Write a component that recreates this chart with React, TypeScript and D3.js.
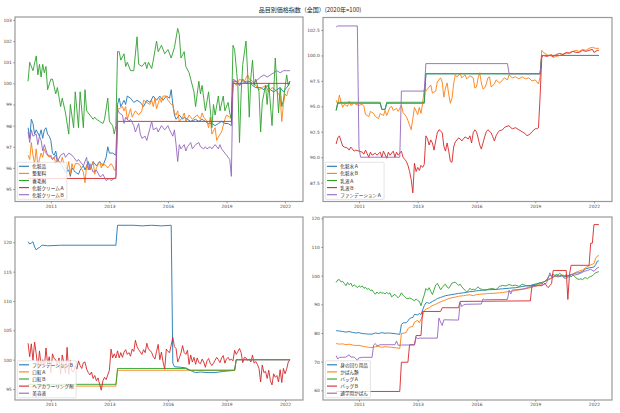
import { useEffect, useRef } from "react";
import * as d3 from "d3";

// x = months since 2008-11
const xTickMonths = [14, 50, 86, 122, 158];
const xTickLabels = ["2011", "2013", "2016", "2019", "2022"];
const xExtent = [0, 161];

const title = "品目別価格指数（全国）(2020年=100)";
const colors = ["#1f77b4", "#ff7f0e", "#2ca02c", "#d62728", "#9467bd"];

// ---- top left ----
const labelsTL = ["化粧品", "整髪料", "養毛剤", "化粧クリームＡ", "化粧クリームＢ"];
const keshohin = [[0,97.9],[1,97.4],[2,98.3],[3,98.1],[4,97.6],[5,97.8],[7,97.5],[8,97.8],[9,97.4],[10,97.8],[11,97.9],[12,97.6],[13,97.5],[14,97.3],[15,96.7],[16,96.6],[17,96.8],[18,96.4],[19,96.3],[21,96.1],[23,95.8],[25,95.9],[26,95.6],[27,96.0],[29,95.8],[31,95.7],[32,95.9],[34,96.1],[35,95.9],[37,96.3],[38,95.9],[40,96.3],[42,96.1],[44,96.3],[45,96.2],[46,96.1],[48,96.5],[49,97.0],[50,96.7],[52,96.7],[54,96.6],[55,99.0],[56,99.3],[57,98.9],[59,99.2],[60,99.0],[61,99.4],[63,99.3],[65,99.1],[67,99.2],[69,99.1],[71,98.9],[73,99.2],[75,99.1],[77,99.4],[79,99.2],[81,99.4],[83,99.2],[85,99.4],[87,99.3],[88,99.7],[89,99.0],[90,98.5],[91,98.3],[93,98.5],[95,98.3],[96,98.4],[98,98.3],[100,98.2],[103,98.3],[105,98.2],[107,98.3],[109,98.2],[111,98.1],[113,98.1],[115,98.0],[117,98.1],[119,98.2],[121,98.1],[123,98.1],[125,98.0],[126,100.1],[128,100.1],[130,99.9],[132,100.2],[134,100.0],[136,100.1],[138,99.9],[140,99.8],[143,99.8],[145,99.7],[147,99.9],[149,99.7],[151,99.6],[153,99.7],[155,99.8],[157,99.6],[158,99.7],[160,99.9],[161,100.1]];
const seihatsuryo = [[0,96.6],[1,96.4],[2,97.2],[3,96.6],[4,96.2],[5,96.9],[6,96.1],[7,96.4],[8,96.7],[9,96.5],[10,96.9],[11,96.7],[12,96.6],[13,96.5],[14,96.6],[15,96.4],[16,96.5],[17,96.2],[18,96.4],[19,96.3],[20,96.2],[21,96.5],[22,96.2],[24,95.9],[25,96.3],[26,95.7],[27,96.2],[28,95.9],[29,96.2],[31,96.2],[32,96.1],[34,95.8],[35,95.3],[36,96.1],[38,95.9],[40,96.3],[41,95.7],[42,96.0],[44,96.3],[45,96.0],[46,96.2],[48,96.1],[49,96.0],[51,96.2],[52,96.1],[53,95.9],[54,95.9],[55,98.8],[56,98.8],[58,98.9],[59,98.7],[60,98.9],[61,98.3],[63,98.8],[64,98.4],[66,98.7],[67,98.6],[68,98.5],[70,98.7],[71,99.2],[73,99.1],[75,99.0],[76,99.2],[77,98.9],[78,99.3],[79,98.8],[81,99.3],[82,99.1],[83,99.4],[85,99.4],[86,99.2],[88,99.0],[89,99.0],[90,98.6],[91,98.5],[92,98.7],[93,98.2],[95,98.4],[96,98.6],[97,98.2],[99,98.5],[101,98.3],[104,98.5],[106,98.3],[107,98.6],[108,98.4],[110,98.2],[111,97.9],[112,98.4],[113,97.6],[115,97.9],[116,97.3],[118,97.6],[119,97.7],[121,98.3],[122,98.5],[124,98.4],[125,98.4],[126,100.1],[128,99.9],[130,100.2],[132,100.1],[133,100.1],[135,100.4],[136,100.2],[138,100.1],[140,99.9],[142,99.7],[144,99.8],[146,99.9],[148,99.6],[150,99.8],[152,99.7],[153,99.6],[155,99.4],[156,98.2],[157,99.0],[158,99.5],[159,99.4],[160,99.7],[161,99.8]];
const yomozai = [[0,100.1],[1,101.0],[3,100.6],[5,101.3],[6,100.4],[7,100.9],[8,100.3],[9,100.9],[10,100.5],[11,100.8],[12,99.7],[14,100.2],[15,100.2],[17,99.5],[18,99.8],[20,98.9],[21,99.3],[23,98.6],[25,97.6],[26,99.0],[28,97.9],[29,99.6],[31,97.9],[32,99.6],[34,97.9],[35,99.7],[36,98.7],[38,98.5],[40,98.3],[41,98.4],[42,98.3],[44,98.2],[46,98.1],[47,98.3],[49,99.3],[50,98.2],[52,98.0],[53,97.6],[54,98.0],[55,101.5],[56,101.5],[57,101.1],[59,101.4],[60,100.8],[61,101.0],[63,100.6],[65,100.6],[67,102.2],[68,100.9],[70,100.8],[72,101.0],[73,100.7],[74,101.0],[76,100.7],[77,101.1],[79,102.0],[80,101.5],[82,101.8],[84,101.4],[86,101.6],[88,101.2],[90,101.7],[92,102.6],[93,102.3],[94,101.2],[96,101.5],[97,100.8],[99,100.5],[100,100.2],[102,99.6],[103,98.9],[105,100.1],[106,99.5],[107,99.9],[108,99.3],[109,98.7],[111,99.6],[112,98.8],[113,97.9],[114,99.0],[115,98.5],[117,99.4],[118,98.7],[120,99.4],[121,98.7],[123,99.1],[124,98.6],[125,98.3],[126,101.8],[127,101.6],[129,99.9],[130,97.2],[131,99.5],[132,100.9],[134,102.0],[135,100.5],[136,98.4],[137,100.3],[138,101.1],[139,99.9],[140,100.2],[142,99.6],[143,97.7],[144,99.1],[146,99.9],[147,99.0],[148,100.0],[150,98.0],[151,99.5],[152,101.2],[154,98.6],[155,99.8],[156,98.9],[157,99.2],[159,100.4],[160,99.9],[161,100.1]];
const creamA = [[0,95.5],[54,95.5],[55,98.2],[125,98.2],[126,100.0],[161,100.0]];
const creamB = [[0,97.7],[1,97.2],[2,97.8],[3,97.5],[5,97.6],[6,97.1],[7,97.5],[8,97.3],[9,96.8],[10,97.1],[12,96.6],[13,96.6],[15,96.4],[17,96.6],[18,96.3],[20,96.6],[22,96.7],[23,96.5],[25,96.7],[27,96.6],[28,96.5],[30,96.3],[31,96.4],[33,96.2],[34,96.1],[36,96.5],[37,95.9],[38,96.2],[40,95.8],[42,95.9],[44,95.6],[45,95.6],[46,95.7],[48,95.4],[50,95.5],[51,95.4],[53,95.5],[54,95.6],[55,98.8],[56,98.6],[58,98.5],[59,98.1],[60,98.4],[62,98.2],[63,98.3],[65,98.0],[66,97.7],[68,98.1],[69,97.6],[70,97.4],[72,97.5],[73,97.3],[75,97.9],[76,98.2],[77,97.8],[79,97.9],[80,97.7],[82,98.0],[84,97.8],[86,98.0],[87,97.8],[89,97.5],[90,97.8],[91,97.1],[92,96.3],[93,97.1],[94,96.9],[96,97.1],[97,96.8],[98,97.0],[100,97.2],[101,96.9],[103,97.1],[105,97.2],[106,97.0],[108,96.9],[109,97.0],[110,96.9],[112,97.0],[113,96.9],[115,97.1],[117,96.9],[118,97.1],[119,96.9],[121,96.7],[122,96.6],[124,96.4],[125,95.6],[126,100.2],[128,100.1],[130,99.9],[132,100.0],[134,100.1],[136,100.1],[138,100.0],[140,100.1],[143,100.3],[145,100.4],[147,100.3],[149,100.4],[151,100.5],[153,100.6],[155,100.5],[157,100.6],[159,100.6],[161,100.6]];

// ---- top right ----
const labelsTR = ["化粧水Ａ", "化粧水Ｂ", "乳液Ａ", "乳液Ｂ", "ファンデーションＡ"];
const keshosuiA = [[0,94.6],[1,95.3],[27,95.3],[28,94.7],[30,94.7],[31,95.3],[54,95.3],[55,98.2],[125,98.2],[126,100.0],[161,100.0]];
const keshosuiB = [[0,95.6],[1,95.2],[2,96.1],[3,95.4],[4,94.9],[5,95.2],[7,95.0],[8,95.5],[9,95.1],[11,95.3],[12,95.2],[14,95.1],[16,95.2],[17,95.0],[18,94.2],[20,94.0],[21,94.5],[23,94.3],[24,94.0],[26,93.8],[27,94.3],[29,94.1],[30,94.6],[31,94.1],[33,94.9],[34,95.0],[35,94.6],[37,94.8],[38,94.5],[40,95.1],[41,94.4],[43,94.0],[44,93.6],[46,92.7],[47,93.8],[48,94.9],[50,94.2],[51,94.9],[52,94.3],[53,95.3],[54,96.7],[55,96.5],[57,96.9],[58,97.1],[59,96.3],[61,96.5],[62,97.4],[64,97.8],[65,97.4],[66,95.9],[67,96.8],[68,97.3],[69,96.2],[70,95.3],[71,95.8],[72,97.2],[73,98.1],[74,97.9],[76,98.2],[77,97.8],[79,98.1],[80,97.7],[82,98.0],[84,97.8],[85,96.8],[86,96.9],[87,97.8],[88,98.3],[89,97.3],[90,96.7],[91,96.8],[92,97.2],[93,97.8],[94,97.9],[95,96.9],[97,97.2],[98,97.6],[100,97.3],[101,97.4],[103,97.8],[105,97.6],[106,98.1],[108,97.8],[110,97.9],[112,97.7],[114,97.9],[116,97.7],[118,97.8],[120,97.5],[122,97.6],[124,97.2],[125,97.9],[126,100.5],[127,100.3],[129,100.1],[130,100.0],[132,100.1],[133,99.8],[135,99.9],[137,100.0],[139,100.1],[141,100.2],[143,100.3],[145,100.4],[147,100.5],[149,100.4],[151,100.6],[153,100.5],[155,100.7],[157,100.8],[159,100.7],[161,100.7]];
const nyuekiA = [[0,94.6],[1,95.4],[27,95.4],[28,94.7],[30,94.7],[31,95.4],[54,95.4],[55,98.2],[125,98.2],[126,100.0],[161,100.0]];
const nyuekiB = [[0,91.3],[1,91.9],[2,92.1],[3,91.6],[4,91.1],[5,91.0],[7,90.9],[8,90.7],[9,91.0],[11,90.6],[12,90.7],[14,90.6],[16,90.5],[17,90.3],[18,90.7],[20,90.0],[21,90.5],[22,90.2],[24,90.4],[25,90.2],[27,90.5],[28,90.0],[29,90.6],[31,89.9],[32,90.5],[33,90.2],[35,90.6],[36,90.0],[37,90.5],[38,90.2],[40,90.6],[41,90.0],[42,89.8],[43,89.6],[44,89.2],[45,88.6],[46,87.8],[47,86.5],[48,89.4],[49,88.6],[50,89.0],[51,88.7],[52,89.2],[53,89.0],[54,89.3],[55,92.1],[56,91.8],[57,91.2],[58,91.7],[59,91.4],[60,90.7],[61,91.6],[62,92.4],[63,92.7],[64,92.6],[65,92.4],[66,91.1],[67,90.6],[68,91.4],[69,90.6],[70,89.6],[71,89.5],[72,91.0],[73,91.5],[74,91.7],[75,91.9],[76,91.8],[77,91.6],[78,91.8],[79,92.0],[81,91.8],[82,92.1],[83,91.4],[84,92.4],[85,92.7],[86,92.5],[87,91.9],[88,91.2],[89,90.8],[90,91.4],[91,92.0],[92,92.5],[93,92.7],[95,92.4],[96,92.0],[97,91.6],[98,92.1],[99,92.4],[100,92.6],[102,92.7],[103,92.9],[104,93.0],[106,93.1],[107,92.9],[108,92.8],[110,92.9],[112,92.7],[114,92.5],[116,92.3],[117,92.1],[119,92.3],[120,92.5],[122,92.8],[123,92.8],[124,92.9],[125,96.0],[126,99.8],[127,100.0],[129,99.9],[131,100.0],[133,99.9],[135,100.1],[137,100.2],[139,100.1],[141,100.3],[143,100.2],[145,100.4],[147,100.3],[149,100.3],[151,100.5],[153,100.4],[155,100.5],[157,100.6],[158,100.3],[160,100.5],[161,100.5]];
const foundationA = [[0,102.8],[1,102.9],[13,102.9],[14,90.9],[15,90.0],[39,90.0],[40,96.5],[54,96.5],[55,99.2],[105,99.2],[106,98.2],[125,98.2],[126,100.0],[161,100.0]];

// ---- bottom left ----
const labelsBL = ["ファンデーションＢ", "口紅Ａ", "口紅Ｂ", "ヘアカラーリング剤", "美容液"];
const foundationB = [[0,120.1],[1,119.7],[2,119.9],[3,120.1],[4,119.2],[5,118.7],[6,119.0],[7,119.1],[8,119.4],[9,119.5],[12,119.4],[20,119.5],[54,119.5],[55,122.9],[65,122.9],[70,122.8],[76,122.9],[82,122.8],[88,122.9],[89,99.4],[90,98.8],[94,98.7],[97,98.6],[99,98.3],[101,98.0],[103,97.8],[106,97.9],[110,97.8],[115,97.8],[120,98.0],[124,98.1],[127,98.2],[128,100.0],[161,100.0]];
const kuchibeniA = [[0,95.5],[54,95.5],[55,98.2],[127,98.2],[128,100.0],[161,100.0]];
const kuchibeniB = [[0,95.8],[54,95.8],[55,98.5],[97,98.5],[99,98.2],[127,98.2],[128,100.0],[161,100.0]];
const hairColor = [[0,102.8],[1,100.5],[2,102.7],[3,99.9],[4,103.0],[5,101.0],[6,98.5],[7,101.5],[8,99.0],[9,100.0],[10,98.7],[11,102.0],[12,99.2],[13,100.5],[14,97.8],[15,101.0],[16,100.2],[17,100.0],[18,99.1],[19,100.3],[20,97.5],[21,100.8],[22,99.5],[23,97.7],[24,102.1],[25,97.5],[26,99.9],[27,98.0],[28,97.9],[29,99.0],[30,98.4],[31,99.8],[32,99.0],[33,98.5],[34,99.5],[35,99.6],[36,98.4],[37,97.8],[38,97.4],[39,97.9],[40,96.8],[41,97.3],[42,96.4],[43,96.9],[44,95.8],[45,94.8],[46,96.4],[47,97.0],[48,96.6],[49,97.4],[50,98.2],[51,101.8],[52,100.3],[53,101.0],[54,100.3],[55,101.5],[56,100.3],[57,101.2],[58,100.4],[59,101.3],[60,101.7],[61,100.9],[62,101.2],[63,100.6],[64,101.8],[65,101.4],[66,103.3],[67,102.2],[68,101.7],[69,101.3],[70,100.9],[71,101.7],[72,101.2],[73,102.8],[74,101.8],[75,101.6],[76,101.2],[77,100.5],[78,100.1],[79,101.4],[80,102.6],[81,100.0],[82,101.3],[83,99.6],[84,98.4],[85,101.8],[86,101.4],[87,101.2],[88,102.5],[89,103.8],[90,102.2],[91,101.9],[92,99.6],[93,100.3],[94,101.1],[95,102.4],[96,101.2],[97,100.9],[98,101.6],[99,99.2],[100,100.8],[101,99.6],[102,100.4],[103,99.2],[104,100.3],[105,99.5],[106,99.3],[107,100.1],[108,99.6],[109,98.7],[110,99.8],[111,100.2],[112,99.4],[113,99.0],[114,99.4],[115,99.9],[116,100.4],[117,100.0],[118,99.5],[119,100.3],[120,100.7],[121,99.4],[122,100.1],[123,100.4],[124,99.9],[125,100.1],[126,99.8],[127,101.6],[128,100.9],[129,101.4],[130,101.9],[131,101.2],[132,99.5],[133,100.4],[134,100.3],[135,99.9],[136,100.1],[137,99.6],[138,100.8],[139,99.4],[140,99.7],[141,99.2],[142,98.5],[143,96.2],[144,99.1],[145,97.8],[146,98.0],[147,96.8],[148,98.2],[149,96.4],[150,95.7],[151,97.6],[152,97.0],[153,97.3],[154,96.2],[155,98.3],[156,96.1],[157,98.5],[158,97.6],[159,98.4],[160,99.6],[161,100.0]];
const biyoeki = [[128,100.0],[161,100.0]];

// ---- bottom right ----
const labelsBR = ["身の回り用品", "かばん類", "バッグＡ", "バッグＢ", "通学用かばん"];
const minomawari = [[0,80.8],[2,80.7],[4,80.5],[6,80.3],[8,80.5],[10,80.2],[12,80.0],[14,80.1],[16,79.8],[18,79.7],[20,79.6],[22,79.6],[24,80.0],[26,79.8],[28,80.1],[30,79.9],[32,80.0],[34,79.9],[37,79.7],[39,79.5],[40,83.0],[41,83.5],[43,83.6],[44,84.2],[45,85.0],[46,85.3],[47,85.4],[48,86.5],[50,86.3],[51,86.8],[52,86.4],[53,88.0],[54,89.5],[55,90.5],[56,90.6],[57,90.3],[59,91.0],[61,91.6],[62,92.0],[64,92.4],[65,92.6],[67,93.0],[69,93.2],[71,93.4],[73,93.6],[75,93.8],[78,94.0],[80,94.2],[82,94.4],[84,94.5],[86,94.7],[88,94.8],[90,95.0],[94,95.1],[98,95.2],[102,95.4],[106,95.6],[110,95.8],[114,96.2],[119,96.6],[123,97.2],[127,97.8],[129,98.3],[131,98.8],[133,99.5],[135,100.2],[137,99.7],[139,100.0],[141,99.6],[143,100.1],[145,100.5],[147,100.9],[149,101.0],[151,101.5],[153,102.4],[155,102.7],[158,103.0],[159,103.8],[160,105.0],[161,105.2]];
const kabanrui = [[0,76.3],[2,76.1],[4,76.2],[6,75.9],[8,76.1],[10,75.8],[12,75.6],[14,75.7],[16,75.4],[18,75.2],[20,75.0],[22,74.9],[24,75.2],[26,75.3],[28,75.0],[30,75.2],[32,75.1],[34,75.0],[37,74.8],[39,74.6],[40,79.8],[42,80.0],[43,80.2],[44,81.5],[45,82.0],[47,82.3],[48,83.8],[50,84.4],[51,83.5],[53,86.0],[54,87.8],[55,88.3],[57,88.8],[58,89.3],[60,89.8],[61,90.0],[63,90.6],[65,91.1],[67,91.5],[69,92.0],[71,92.3],[73,92.5],[75,92.8],[78,93.0],[80,93.2],[82,93.3],[84,93.0],[86,93.4],[88,93.5],[90,93.6],[92,93.7],[94,93.8],[96,93.8],[98,93.9],[100,94.0],[102,94.1],[104,94.3],[106,94.5],[108,94.6],[110,94.8],[112,95.0],[114,95.2],[117,95.5],[119,95.8],[121,96.1],[123,96.5],[125,97.0],[127,97.6],[129,98.4],[131,99.0],[133,99.5],[135,99.8],[137,100.0],[139,100.2],[141,99.8],[143,100.0],[145,100.6],[147,101.2],[149,101.6],[151,102.0],[153,102.8],[155,103.5],[158,104.2],[159,106.0],[160,106.8],[161,107.0]];
const bagA = [[0,97.6],[1,98.5],[2,98.6],[3,97.8],[4,98.0],[5,97.3],[6,96.5],[7,97.6],[8,96.8],[9,97.4],[10,96.2],[11,96.8],[12,96.4],[13,95.8],[14,96.5],[15,96.0],[16,96.4],[17,95.6],[18,95.9],[19,95.2],[20,95.5],[21,94.8],[22,95.0],[23,94.2],[24,93.5],[25,94.3],[26,93.7],[27,94.2],[28,93.9],[29,94.0],[30,93.6],[31,94.2],[32,93.6],[33,94.0],[34,92.6],[36,93.5],[37,92.8],[38,92.3],[39,92.9],[40,94.0],[41,93.2],[42,92.6],[43,92.1],[44,91.9],[45,92.2],[46,92.0],[47,91.6],[48,91.2],[49,91.9],[50,91.3],[51,91.0],[52,89.5],[53,91.5],[54,93.3],[55,95.5],[56,94.9],[57,95.8],[58,94.5],[59,93.4],[60,95.0],[61,96.7],[62,97.3],[63,96.3],[64,95.1],[65,95.8],[66,96.6],[67,97.0],[68,96.0],[69,95.6],[70,96.4],[71,97.4],[72,97.6],[73,97.7],[74,97.2],[75,96.6],[76,97.0],[77,96.1],[79,94.9],[80,94.3],[81,94.8],[82,95.6],[83,95.0],[84,95.3],[85,95.0],[86,95.6],[87,96.1],[88,95.4],[89,95.3],[90,94.9],[92,95.0],[94,95.4],[96,95.5],[98,95.1],[100,96.2],[102,96.6],[104,96.4],[106,96.9],[108,96.5],[110,96.7],[112,96.2],[114,97.0],[116,96.6],[119,96.3],[121,96.7],[123,96.9],[125,97.5],[126,97.1],[127,97.6],[128,98.1],[129,98.5],[130,99.5],[131,100.2],[132,99.8],[133,100.6],[134,100.0],[135,100.4],[136,100.2],[137,100.8],[138,100.3],[139,100.0],[140,99.4],[141,100.5],[142,99.8],[143,100.3],[144,99.5],[145,100.2],[146,99.8],[147,99.2],[148,98.8],[149,98.7],[150,98.9],[151,98.6],[152,99.1],[153,99.3],[154,98.9],[155,99.5],[156,99.7],[157,99.9],[158,100.5],[159,101.0],[161,101.4]];
const bagB = [[0,59.6],[39,59.6],[40,69.8],[44,69.8],[45,75.9],[48,75.9],[49,79.1],[52,79.1],[53,87.5],[64,87.5],[65,88.8],[75,88.8],[76,91.0],[119,91.2],[120,96.5],[126,96.5],[127,96.9],[128,97.4],[129,96.4],[130,95.8],[131,96.6],[132,97.2],[133,101.8],[141,101.8],[142,91.7],[143,100.5],[144,103.6],[155,103.6],[156,111.3],[157,111.3],[158,117.8],[161,117.8]];
const tsugakuKaban = [[0,72.1],[1,70.9],[2,71.5],[4,71.5],[6,71.6],[8,72.4],[9,71.6],[11,71.6],[13,70.5],[14,71.3],[16,71.5],[22,71.5],[23,75.8],[24,76.3],[25,75.5],[27,75.9],[36,75.9],[37,77.2],[38,75.7],[40,75.8],[48,75.8],[49,78.5],[50,78.0],[51,78.2],[62,78.2],[63,85.2],[64,83.8],[65,82.6],[66,84.6],[75,84.5],[76,90.6],[77,89.2],[78,89.8],[79,90.0],[89,90.1],[90,91.9],[91,91.6],[105,91.7],[106,94.9],[107,93.6],[108,95.0],[111,95.1],[115,95.4],[118,95.9],[120,96.2],[123,96.5],[125,96.6],[127,96.8],[129,97.5],[131,101.0],[132,99.6],[134,100.0],[136,99.5],[138,100.2],[140,99.0],[142,99.3],[144,100.5],[146,100.2],[148,100.4],[150,100.9],[152,101.5],[154,101.8],[156,102.2],[158,101.5],[160,102.7],[161,102.9]];

const yTicksTL = [95, 96, 97, 98, 99, 100, 101, 102, 103];
const yTicksTR = [87.5, 90, 92.5, 95, 97.5, 100, 102.5];
const yTicksBL = [95, 100, 105, 110, 115, 120];
const yTicksBR = [60, 70, 80, 90, 100, 110, 120];

const jpFont = "'Noto Sans CJK JP', sans-serif";
const numFont = "'DejaVu Sans', sans-serif";

const panels = [
  { series: [keshohin, seihatsuryo, yomozai, creamA, creamB], labels: labelsTL, left: 15, right: 303, top: 17, bottom: 201.5, yDomain: [94.41, 103.14], yTicks: yTicksTL, fmt: d3.format("d") },
  { series: [keshosuiA, keshosuiB, nyuekiA, nyuekiB, foundationA], labels: labelsTR, left: 323, right: 612, top: 17.5, bottom: 201.5, yDomain: [85.65, 103.73], yTicks: yTicksTR, fmt: d3.format(".1f") },
  { series: [foundationB, kuchibeniA, kuchibeniB, hairColor, biyoeki], labels: labelsBL, left: 15, right: 303, top: 217, bottom: 400, yDomain: [93.13, 124.31], yTicks: yTicksBL, fmt: d3.format("d") },
  { series: [minomawari, kabanrui, bagA, bagB, tsugakuKaban], labels: labelsBR, left: 323, right: 612, top: 217, bottom: 400, yDomain: [56.62, 120.45], yTicks: yTicksBR, fmt: d3.format("d") },
];

export default function App() {
  const svgRef = useRef(null);

  useEffect(() => {
    const svg = d3.select(svgRef.current);
    svg.selectAll("*").remove();
    svg.append("rect").attr("width", 620).attr("height", 413).attr("fill", "#fff");

    svg.append("text")
      .attr("x", 310).attr("y", 9.8)
      .attr("text-anchor", "middle").attr("dominant-baseline", "central")
      .attr("font-family", jpFont).attr("font-size", 6).attr("fill", "#222")
      .text(title);

    const pad = (xExtent[1] - xExtent[0]) * 0.05;

    panels.forEach((p) => {
      const x = d3.scaleLinear().domain([xExtent[0] - pad, xExtent[1] + pad]).range([p.left, p.right]);
      const y = d3.scaleLinear().domain(p.yDomain).range([p.bottom, p.top]);
      const g = svg.append("g");

      const line = d3.line().x((d) => x(d[0])).y((d) => y(d[1]));
      p.series.forEach((s, i) => {
        g.append("path")
          .attr("d", line(s))
          .attr("fill", "none")
          .attr("stroke", colors[i])
          .attr("stroke-width", 0.9)
          .attr("stroke-linejoin", "round");
      });

      // frame
      g.append("rect")
        .attr("x", p.left).attr("y", p.top)
        .attr("width", p.right - p.left).attr("height", p.bottom - p.top)
        .attr("fill", "none").attr("stroke", "#999").attr("stroke-width", 1.2);

      const xa = g.append("g")
        .attr("transform", `translate(0,${p.bottom})`)
        .call(d3.axisBottom(x).tickValues(xTickMonths).tickFormat((d, i) => xTickLabels[i]).tickSize(1.8).tickPadding(1.4));
      const ya = g.append("g")
        .attr("transform", `translate(${p.left},0)`)
        .call(d3.axisLeft(y).tickValues(p.yTicks).tickFormat(p.fmt).tickSize(1.8).tickPadding(1.4));
      [xa, ya].forEach((a) => {
        a.select(".domain").remove();
        a.selectAll("line").attr("stroke", "#666").attr("stroke-width", 0.6);
        a.selectAll("text").attr("font-family", numFont).attr("font-size", 4.4).attr("fill", "#444");
      });

      // legend
      const boxL = p.left + 2.3;
      const boxB = p.bottom - 2.2;
      const boxT = boxB - 37;
      const lg = g.append("g");
      const frame = lg.append("rect")
        .attr("x", boxL).attr("y", boxT).attr("height", boxB - boxT).attr("rx", 1)
        .attr("fill", "#fff").attr("fill-opacity", 0.8)
        .attr("stroke", "#d0d0d0").attr("stroke-width", 0.6);
      let maxW = 0;
      p.labels.forEach((lab, i) => {
        const cy = boxT + 4 + i * 7.1;
        lg.append("line")
          .attr("x1", boxL + 1.7).attr("x2", boxL + 11.7)
          .attr("y1", cy).attr("y2", cy)
          .attr("stroke", colors[i]).attr("stroke-width", 1.1);
        const t = lg.append("text")
          .attr("x", boxL + 15).attr("y", cy)
          .attr("dominant-baseline", "central")
          .attr("font-family", jpFont).attr("font-size", 4.6).attr("fill", "#222")
          .text(lab);
        const n = t.node();
        if (n) maxW = Math.max(maxW, n.getComputedTextLength());
      });
      frame.attr("width", 15 + maxW + 2.5);
    });
  }, []);

  return (
    <svg ref={svgRef} width={620} height={413}
      style={{ position: "absolute", left: 0, top: 0, display: "block" }} />
  );
}
